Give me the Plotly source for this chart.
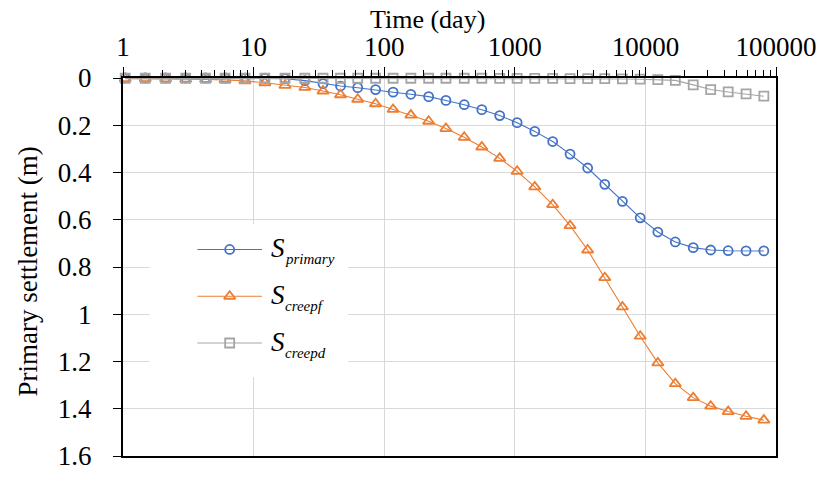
import plotly.graph_objects as go

# Elapsed time (day) for every computed step
time_day = [1.04, 1.48, 2.12, 3.02, 4.29, 6.05, 8.59, 12.2, 17.4, 24.7,
            34.0, 46.3, 62.7, 85.9, 117, 160, 219, 297, 410, 559,
            766, 1042, 1422, 1950, 2649, 3614, 4887, 6668, 9120, 12450,
            16940, 23230, 31620, 43050, 59020, 80720]

# Settlement components (m)
s_primary = [0.000, 0.000, 0.000, 0.000, 0.000, 0.000, 0.001, 0.001, 0.003, 0.011,
             0.024, 0.034, 0.041, 0.049, 0.060, 0.069, 0.079, 0.095, 0.113, 0.134,
             0.159, 0.189, 0.226, 0.269, 0.322, 0.381, 0.450, 0.522, 0.592, 0.652,
             0.694, 0.718, 0.728, 0.731, 0.732, 0.732]
s_creepf = [0.003, 0.003, 0.004, 0.005, 0.006, 0.008, 0.012, 0.020, 0.031, 0.040,
            0.055, 0.071, 0.090, 0.109, 0.133, 0.157, 0.183, 0.214, 0.251, 0.292,
            0.340, 0.395, 0.461, 0.536, 0.625, 0.728, 0.845, 0.969, 1.093, 1.206,
            1.294, 1.353, 1.389, 1.412, 1.432, 1.448]
s_creepd = [0.001, 0.001, 0.001, 0.001, 0.001, 0.001, 0.001, 0.001, 0.001, 0.001,
            0.001, 0.001, 0.001, 0.001, 0.001, 0.001, 0.001, 0.001, 0.001, 0.001,
            0.002, 0.002, 0.002, 0.002, 0.003, 0.003, 0.003, 0.004, 0.005, 0.007,
            0.010, 0.029, 0.049, 0.059, 0.067, 0.077]

x_tick_vals = [1, 10, 100, 1000, 10000, 100000]
x_tick_text = ["1", "10", "100", "1000", "10000", "100000"]
y_tick_vals = [0, 0.2, 0.4, 0.6, 0.8, 1.0, 1.2, 1.4, 1.6]
y_tick_text = ["0", "0.2", "0.4", "0.6", "0.8", "1", "1.2", "1.4", "1.6"]

series_keys = ["primary", "creepf", "creepd"]
series_vals = [s_primary, s_creepf, s_creepd]
series_colors = ["#4472C4", "#ED7D31", "#A5A5A5"]
series_symbols = ["circle-open", "triangle-up-open", "square-open"]
series_sizes = [9, 10, 9]

# Canvas and plot-area geometry (pixels)
W, H = 829, 483
L, R, T, B = 123, 48, 78, 17
PW, PH = W - L - R, H - T - B
FONT = "Times New Roman, Liberation Serif, Tinos, serif"


def paper_x(px):
    return (px - L) / PW


def paper_y(py):
    return (H - B - py) / PH


def frac_y(py):
    # fraction measured downward from the top of the plot area
    return (py - T) / PH


fig = go.Figure()

for key, vals, col, sym, size in zip(series_keys, series_vals, series_colors,
                                     series_symbols, series_sizes):
    fig.add_trace(go.Scatter(
        x=time_day, y=vals, mode="lines+markers", name=key,
        line=dict(color=col, width=1.1),
        marker=dict(symbol=sym, size=size, color=col, line=dict(width=1.8, color=col)),
        cliponaxis=False, showlegend=False,
    ))

# Legend drawn on an overlay axis pair spanning the plot area (0..1)
box_l, box_r, box_t, box_b = 150, 350, 228, 385
fig.add_trace(go.Scatter(
    x=[paper_x(box_l), paper_x(box_r), paper_x(box_r), paper_x(box_l), paper_x(box_l)],
    y=[frac_y(box_t), frac_y(box_t), frac_y(box_b), frac_y(box_b), frac_y(box_t)],
    mode="lines", fill="toself", fillcolor="white", line=dict(width=0, color="white"),
    xaxis="x2", yaxis="y2", showlegend=False, hoverinfo="skip",
))

row_y = [254, 302, 350]
line_l, line_r = 198, 263
for key, col, sym, size, ry in zip(series_keys, series_colors, series_symbols,
                                   series_sizes, row_y):
    fig.add_trace(go.Scatter(
        x=[paper_x(line_l), paper_x(line_r)], y=[frac_y(ry), frac_y(ry)],
        mode="lines", line=dict(color=col, width=1.1),
        xaxis="x2", yaxis="y2", showlegend=False, hoverinfo="skip",
    ))
    fig.add_trace(go.Scatter(
        x=[paper_x((line_l + line_r) / 2)], y=[frac_y(ry)],
        mode="markers",
        marker=dict(symbol=sym, size=size, color=col, line=dict(width=1.8, color=col)),
        xaxis="x2", yaxis="y2", showlegend=False, hoverinfo="skip",
    ))
    fig.add_annotation(
        x=paper_x(270), y=paper_y(ry - 1), xref="paper", yref="paper",
        text="<i>S</i>", showarrow=False, xanchor="left", yanchor="middle",
        font=dict(family=FONT, size=27, color="black"),
    )
    fig.add_annotation(
        x=paper_x(284), y=paper_y(ry + 10), xref="paper", yref="paper",
        text="<i>" + key + "</i>", showarrow=False, xanchor="left", yanchor="middle",
        font=dict(family=FONT, size=15, color="black"),
    )

# Axis titles
fig.add_annotation(
    x=paper_x(430), y=paper_y(18), xref="paper", yref="paper",
    text="Time (day)", showarrow=False, xanchor="center", yanchor="middle",
    font=dict(family=FONT, size=26, color="black"),
)
fig.add_annotation(
    x=paper_x(27), y=paper_y(277), xref="paper", yref="paper",
    text="Primary settlement (m)", textangle=-90, showarrow=False,
    xanchor="center", yanchor="middle",
    font=dict(family=FONT, size=27, color="black"),
)

fig.update_layout(
    width=W, height=H,
    margin=dict(l=L, r=R, t=T, b=B, pad=0),
    paper_bgcolor="white", plot_bgcolor="white",
    showlegend=False,
    font=dict(family=FONT, color="black"),
    xaxis=dict(
        type="log", side="top", range=[0, 5],
        tickmode="array", tickvals=x_tick_vals, ticktext=x_tick_text,
        ticks="outside", ticklen=9, tickwidth=1.3, tickcolor="black",
        showline=True, linecolor="black", linewidth=2, mirror=True,
        showgrid=True, gridcolor="#D9D9D9", gridwidth=1.3, zeroline=False,
        minor=dict(ticks="outside", ticklen=6, tickwidth=1.3, tickcolor="black",
                   dtick="D1", showgrid=False),
        tickfont=dict(family=FONT, size=27, color="black"),
    ),
    yaxis=dict(
        range=[1.6, 0],
        tickmode="array", tickvals=y_tick_vals, ticktext=y_tick_text,
        ticks="outside", ticklen=8, tickwidth=1.3, tickcolor="black",
        showline=True, linecolor="black", linewidth=2, mirror=True,
        showgrid=True, gridcolor="#D9D9D9", gridwidth=1.3, zeroline=False,
        tickfont=dict(family=FONT, size=27, color="black"),
        ticklabelstandoff=16,
    ),
    xaxis2=dict(overlaying="x", range=[0, 1], visible=False, fixedrange=True),
    yaxis2=dict(overlaying="y", range=[1, 0], visible=False, fixedrange=True),
)

fig.write_html("out.html")
